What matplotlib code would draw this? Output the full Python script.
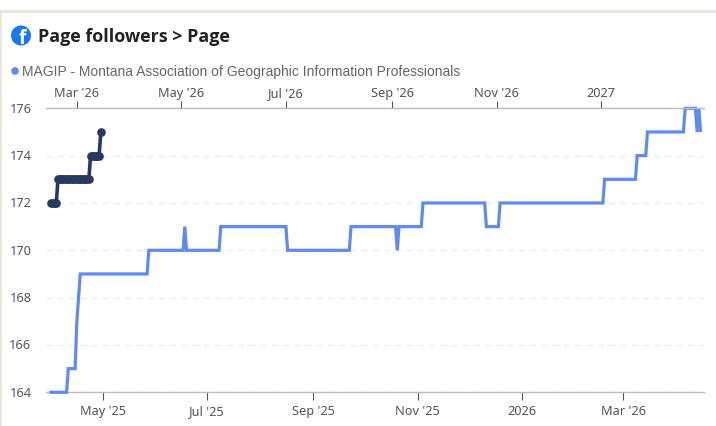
import pandas as pd
import matplotlib
matplotlib.use("Agg")
import matplotlib.pyplot as plt
from matplotlib.patches import Circle, Rectangle

W, H = 716, 427

# current period, drawn against the bottom axis
cur_dates = ["2025-03-31", "2025-04-10", "2025-04-11", "2025-04-15", "2025-04-16", "2025-04-18",
             "2025-05-27", "2025-05-28", "2025-06-17", "2025-06-18", "2025-06-19", "2025-07-08",
             "2025-07-09", "2025-08-16", "2025-08-17", "2025-09-22", "2025-09-23", "2025-10-19",
             "2025-10-20", "2025-10-21", "2025-11-03", "2025-11-04", "2025-12-10", "2025-12-11",
             "2025-12-18", "2025-12-19", "2026-02-17", "2026-02-18", "2026-03-08", "2026-03-09",
             "2026-03-14", "2026-03-15", "2026-04-05", "2026-04-06", "2026-04-12", "2026-04-13",
             "2026-04-14", "2026-04-15"]
cur_values = [164, 164, 165, 165, 167, 169,
              169, 170, 170, 171, 170, 170,
              171, 171, 170, 170, 171, 171,
              170, 171, 171, 172, 172, 171,
              171, 172, 172, 173, 173, 174,
              174, 175, 175, 176, 176, 175,
              176, 175]

# second series, drawn against the top axis
top_dates = ["2026-02-14", "2026-02-15", "2026-02-16", "2026-02-17", "2026-02-18", "2026-02-19",
             "2026-02-20", "2026-02-21", "2026-02-22", "2026-02-23", "2026-02-24", "2026-02-25",
             "2026-02-26", "2026-02-27", "2026-02-28", "2026-03-01", "2026-03-02", "2026-03-03",
             "2026-03-04", "2026-03-05", "2026-03-06", "2026-03-07", "2026-03-08", "2026-03-09",
             "2026-03-10", "2026-03-11", "2026-03-12", "2026-03-13", "2026-03-14", "2026-03-15"]
top_values = [172, 172, 172, 172, 173, 173,
              173, 173, 173, 173, 173, 173,
              173, 173, 173, 173, 173, 173,
              173, 173, 173, 173, 173, 174,
              174, 174, 174, 174, 174, 175]

y_ticks = [164, 166, 168, 170, 172, 174, 176]
bottom_ticks = ["2025-05-01", "2025-07-01", "2025-09-01", "2025-11-01", "2026-01-01", "2026-03-01"]
bottom_labels = ["May '25", "Jul '25", "Sep '25", "Nov '25", "2026", "Mar '26"]
top_ticks = ["2026-03-01", "2026-05-01", "2026-07-01", "2026-09-01", "2026-11-01", "2027-01-01"]
top_labels = ["Mar '26", "May '26", "Jul '26", "Sep '26", "Nov '26", "2027"]

BLUE = "#5f8bef"
NAVY = "#27395f"
TICK_FONT = "Noto Sans"


def px(x, y):
    return x / W, 1 - y / H


fig = plt.figure(figsize=(W / 100, H / 100), dpi=100, facecolor="white")

# card edge
fig.patches.append(Rectangle((0, 1 - 14 / H), 1, 3 / H, transform=fig.transFigure, color="#e8e4de", lw=0))
fig.patches.append(Rectangle((0, 0), 1.5 / W, 1 - 11 / H, transform=fig.transFigure, color="#e8e4de", lw=0))

left, top = px(46, 109.3)
right, bottom = px(704, 393.3)
ax = fig.add_axes([left, bottom, right - left, top - bottom])

xmin = pd.Timestamp("2025-03-29")
xmax = pd.Timestamp("2026-04-17")
ax.set_xlim(xmin, xmax)
ax.set_ylim(164, 176)

ax.plot(pd.to_datetime(cur_dates), cur_values, color=BLUE, lw=2.3, clip_on=False,
        solid_joinstyle="miter", solid_capstyle="butt", zorder=3)

ax.set_yticks(y_ticks)
ax.set_yticklabels(y_ticks, fontsize=9.2, family=TICK_FONT, color="#555555", va="center")
ax.tick_params(axis="y", length=0, pad=10.5)
ax.grid(axis="y", color="#ebebeb", lw=0.9, ls=(0, (5, 4)))
ax.set_axisbelow(True)
ax.set_xticks(pd.to_datetime(bottom_ticks))
ax.set_xticklabels(bottom_labels, fontsize=9.2, family=TICK_FONT, color="#555555")
ax.tick_params(axis="x", length=6, width=0.8, color="#555555", pad=2.3)
for s in ["left", "right", "top"]:
    ax.spines[s].set_visible(False)
ax.spines["bottom"].set_color("#bdbdbd")
ax.spines["bottom"].set_linewidth(1.0)

# top axis runs 319 days ahead of the bottom one
shift = pd.Timedelta(days=319)
ax2 = ax.twiny()
ax2.set_xlim(xmin + shift, xmax + shift)
dark, = ax2.plot(pd.to_datetime(top_dates), top_values, color=NAVY, lw=2.6, marker="o", ms=5.2,
                 clip_on=False, zorder=4)
dark.set_snap(False)
ax2.set_xticks(pd.to_datetime(top_ticks))
ax2.set_xticklabels(top_labels, fontsize=9.2, family=TICK_FONT, color="#555555")
ax2.tick_params(axis="x", length=5, width=0.8, color="#555555", pad=2)
for s in ["left", "right", "bottom"]:
    ax2.spines[s].set_visible(False)
ax2.spines["top"].set_color("#bdbdbd")
ax2.spines["top"].set_linewidth(1.0)

# header, placed in figure pixels
bg = fig.add_axes([0, 0, 1, 1], zorder=5)
bg.set_xlim(0, W)
bg.set_ylim(H, 0)
bg.axis("off")
bg.add_patch(Circle((21, 36.5), 10, color="#1877f2", lw=0))
bg.text(22.5, 38.5, "f", color="white", fontsize=14, fontweight="bold", family="Open Sans",
        ha="center", va="center")
bg.text(38, 37, "Page followers > Page", fontsize=12.85, fontweight="bold", family="Open Sans",
        color="#222222", va="center")
bg.add_patch(Circle((15, 72), 3.8, color=BLUE, lw=0))
bg.text(22, 72, "MAGIP - Montana Association of Geographic Information Professionals",
        fontsize=9.98, family="Liberation Sans", color="#666666", va="center")

fig.savefig("out.png", dpi=100)
